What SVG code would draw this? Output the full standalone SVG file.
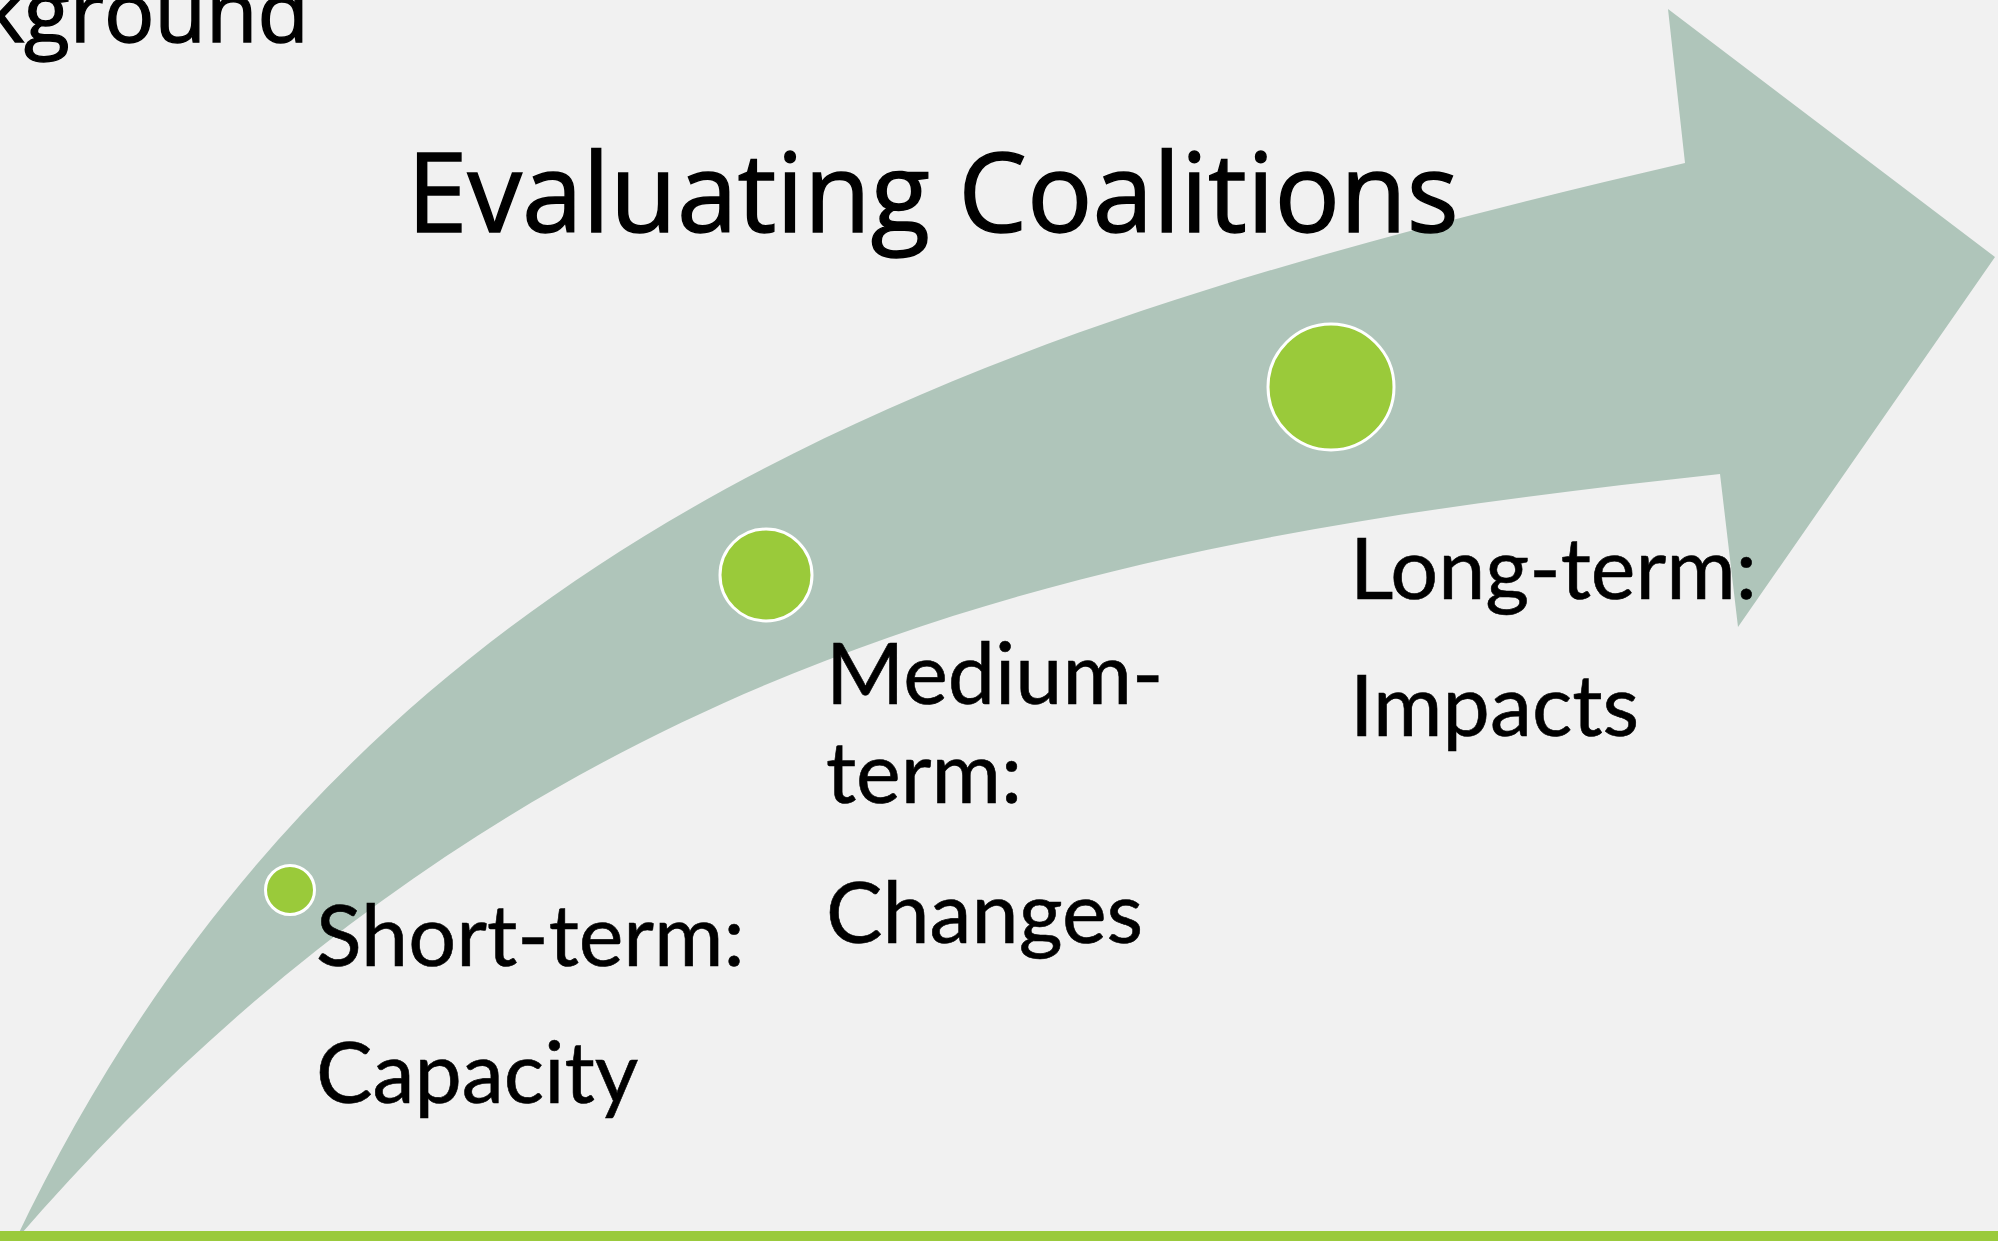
<svg xmlns="http://www.w3.org/2000/svg" width="1998" height="1241" viewBox="0 0 1998 1241">
  <style>
    .label { font-family: Lato, "Open Sans", "Liberation Sans", sans-serif; font-size: 84.5px; fill: #000000; stroke: #000000; stroke-width: 0.6; }
    .title { font-family: "Open Sans", "Noto Sans", "Liberation Sans", sans-serif; fill: #000000; stroke: #000000; stroke-width: 1.4; }
    .dot { fill: #9ACA3A; stroke: #FFFFFF; stroke-width: 3; }
  </style>
  <rect id="background" x="0" y="0" width="1998" height="1241" fill="#F1F1F1"/>
  <text id="prev-title" class="title" x="309" y="42" font-size="84" text-anchor="end">Background</text>
  <g id="connectors">
    <path id="arrow" d="M 15,1241 C 358,518 1003,322 1685,163 L 1668,9 L 1995,257 L 1738,627 L 1720,474 C 1124,539 538,636 15,1241 Z" fill="#AFC5BA"/>
  </g>
  <text id="title" class="title" x="407" y="232" font-size="109">Evaluating Coalitions</text>
  <g id="node-short">
    <circle class="dot" cx="290" cy="890" r="24.5"/>
    <text class="label" x="316" y="966">Short-term:</text>
    <text class="label" x="316" y="1103">Capacity</text>
  </g>
  <g id="node-medium">
    <circle class="dot" cx="766" cy="575" r="46"/>
    <text class="label" x="826" y="704">Medium-</text>
    <text class="label" x="826" y="803">term:</text>
    <text class="label" x="826" y="943">Changes</text>
  </g>
  <g id="node-long">
    <circle class="dot" cx="1331" cy="387" r="63"/>
    <text class="label" x="1350" y="599">Long-term:</text>
    <text class="label" x="1350" y="736">Impacts</text>
  </g>
  <rect id="bottom-bar" x="0" y="1231" width="1998" height="10" fill="#9ACA3C"/>
</svg>
